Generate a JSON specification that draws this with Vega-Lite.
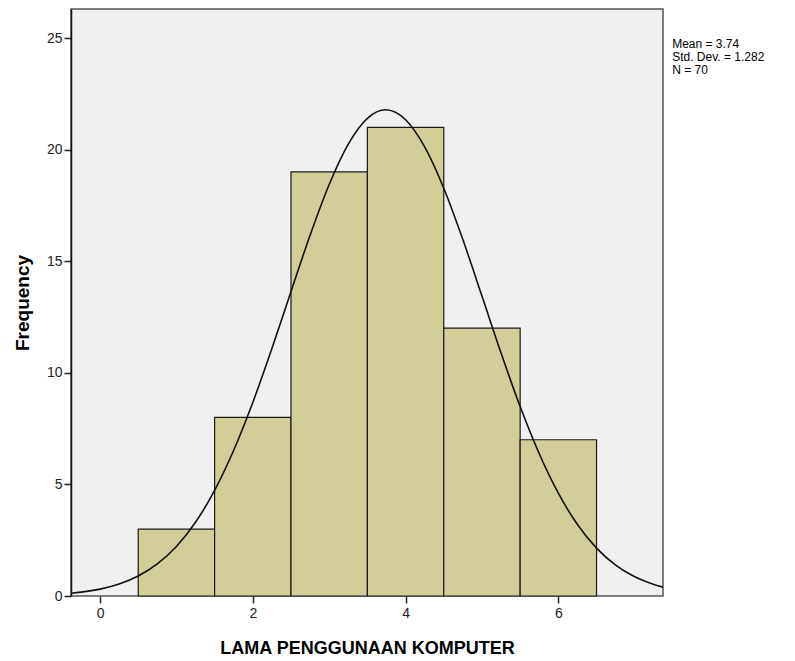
{
  "$schema": "https://vega.github.io/schema/vega-lite/v6.json",
  "width": 592,
  "height": 587,
  "autosize": {"type": "none"},
  "padding": {"left": 71, "top": 9, "right": 132, "bottom": 65},
  "background": "white",
  "config": {
    "font": "Liberation Sans",
    "view": {"fill": "#f0f0f0", "stroke": "#555555", "strokeWidth": 1.5}
  },
  "title": {
    "text": "Histogram",
    "font": "Liberation Sans",
    "fontSize": 18,
    "fontWeight": "bold",
    "color": "#000000",
    "anchor": "middle",
    "baseline": "bottom",
    "offset": 7,
    "dx": 74
  },
  "datasets": {
    "bins": [
      {"bin_start": 0.5, "bin_end": 1.5, "frequency": 3},
      {"bin_start": 1.5, "bin_end": 2.5, "frequency": 8},
      {"bin_start": 2.5, "bin_end": 3.5, "frequency": 19},
      {"bin_start": 3.5, "bin_end": 4.5, "frequency": 21},
      {"bin_start": 4.5, "bin_end": 5.5, "frequency": 12},
      {"bin_start": 5.5, "bin_end": 6.5, "frequency": 7}
    ],
    "curve": [
      {"x": -0.5, "density": 0.092},
      {"x": -0.25, "density": 0.172},
      {"x": 0.0, "density": 0.309},
      {"x": 0.25, "density": 0.536},
      {"x": 0.5, "density": 0.894},
      {"x": 0.75, "density": 1.435},
      {"x": 1.0, "density": 2.219},
      {"x": 1.25, "density": 3.303},
      {"x": 1.5, "density": 4.733},
      {"x": 1.75, "density": 6.529},
      {"x": 2.0, "density": 8.670},
      {"x": 2.25, "density": 11.085},
      {"x": 2.5, "density": 13.643},
      {"x": 2.75, "density": 16.165},
      {"x": 3.0, "density": 18.438},
      {"x": 3.25, "density": 20.246},
      {"x": 3.5, "density": 21.402},
      {"x": 3.74, "density": 21.783},
      {"x": 4.0, "density": 21.337},
      {"x": 4.25, "density": 20.123},
      {"x": 4.5, "density": 18.270},
      {"x": 4.75, "density": 15.969},
      {"x": 5.0, "density": 13.437},
      {"x": 5.25, "density": 10.884},
      {"x": 5.5, "density": 8.488},
      {"x": 5.75, "density": 6.372},
      {"x": 6.0, "density": 4.605},
      {"x": 6.25, "density": 3.203},
      {"x": 6.5, "density": 2.146},
      {"x": 6.75, "density": 1.384},
      {"x": 7.0, "density": 0.859},
      {"x": 7.25, "density": 0.513},
      {"x": 7.5, "density": 0.295}
    ],
    "stats": [
      {"label": "Mean = 3.74\nStd. Dev. = 1.282\nN = 70"}
    ]
  },
  "layer": [
    {
      "data": {"name": "bins"},
      "mark": {"type": "rect", "fill": "#d3ce97", "stroke": "#1a1a1a", "strokeWidth": 1.2},
      "encoding": {
        "x": {
          "field": "bin_start",
          "type": "quantitative",
          "scale": {"domain": [-0.38, 7.37], "nice": false, "zero": false},
          "axis": {
            "values": [0, 2, 4, 6],
            "format": "d",
            "grid": false,
            "title": "LAMA PENGGUNAAN KOMPUTER",
            "titleFont": "Liberation Sans",
            "titleFontSize": 18,
            "titleFontWeight": "bold",
            "titleColor": "#000000",
            "titlePadding": 19,
            "labelFont": "Liberation Sans",
            "labelFontSize": 14,
            "labelColor": "#222222",
            "labelPadding": 3,
            "tickSize": 7,
            "tickColor": "#222222",
            "tickWidth": 1.5,
            "domain": false
          }
        },
        "x2": {"field": "bin_end"},
        "y": {
          "field": "frequency",
          "type": "quantitative",
          "scale": {"domain": [0, 26.3], "nice": false},
          "axis": {
            "values": [0, 5, 10, 15, 20, 25],
            "grid": false,
            "title": "Frequency",
            "titleFont": "Liberation Sans",
            "titleFontSize": 19,
            "titleFontWeight": "bold",
            "titleColor": "#000000",
            "titlePadding": 14,
            "labelFont": "Liberation Sans",
            "labelFontSize": 14,
            "labelColor": "#222222",
            "labelPadding": 2,
            "tickSize": 7,
            "tickColor": "#222222",
            "tickWidth": 1.5,
            "domainColor": "#111111",
            "domainWidth": 1.5
          }
        },
        "y2": {"datum": 0}
      }
    },
    {
      "data": {"name": "curve"},
      "mark": {"type": "line", "color": "#111111", "strokeWidth": 1.6, "interpolate": "monotone", "clip": true},
      "encoding": {
        "x": {"field": "x", "type": "quantitative"},
        "y": {"field": "density", "type": "quantitative"}
      }
    },
    {
      "data": {"name": "stats"},
      "mark": {
        "type": "text",
        "align": "left",
        "baseline": "top",
        "font": "Liberation Sans",
        "fontSize": 12,
        "lineHeight": 13,
        "lineBreak": "\n",
        "color": "#000000",
        "clip": false
      },
      "encoding": {
        "text": {"field": "label"},
        "x": {"datum": 7.49},
        "y": {"datum": 24.95}
      }
    }
  ]
}
